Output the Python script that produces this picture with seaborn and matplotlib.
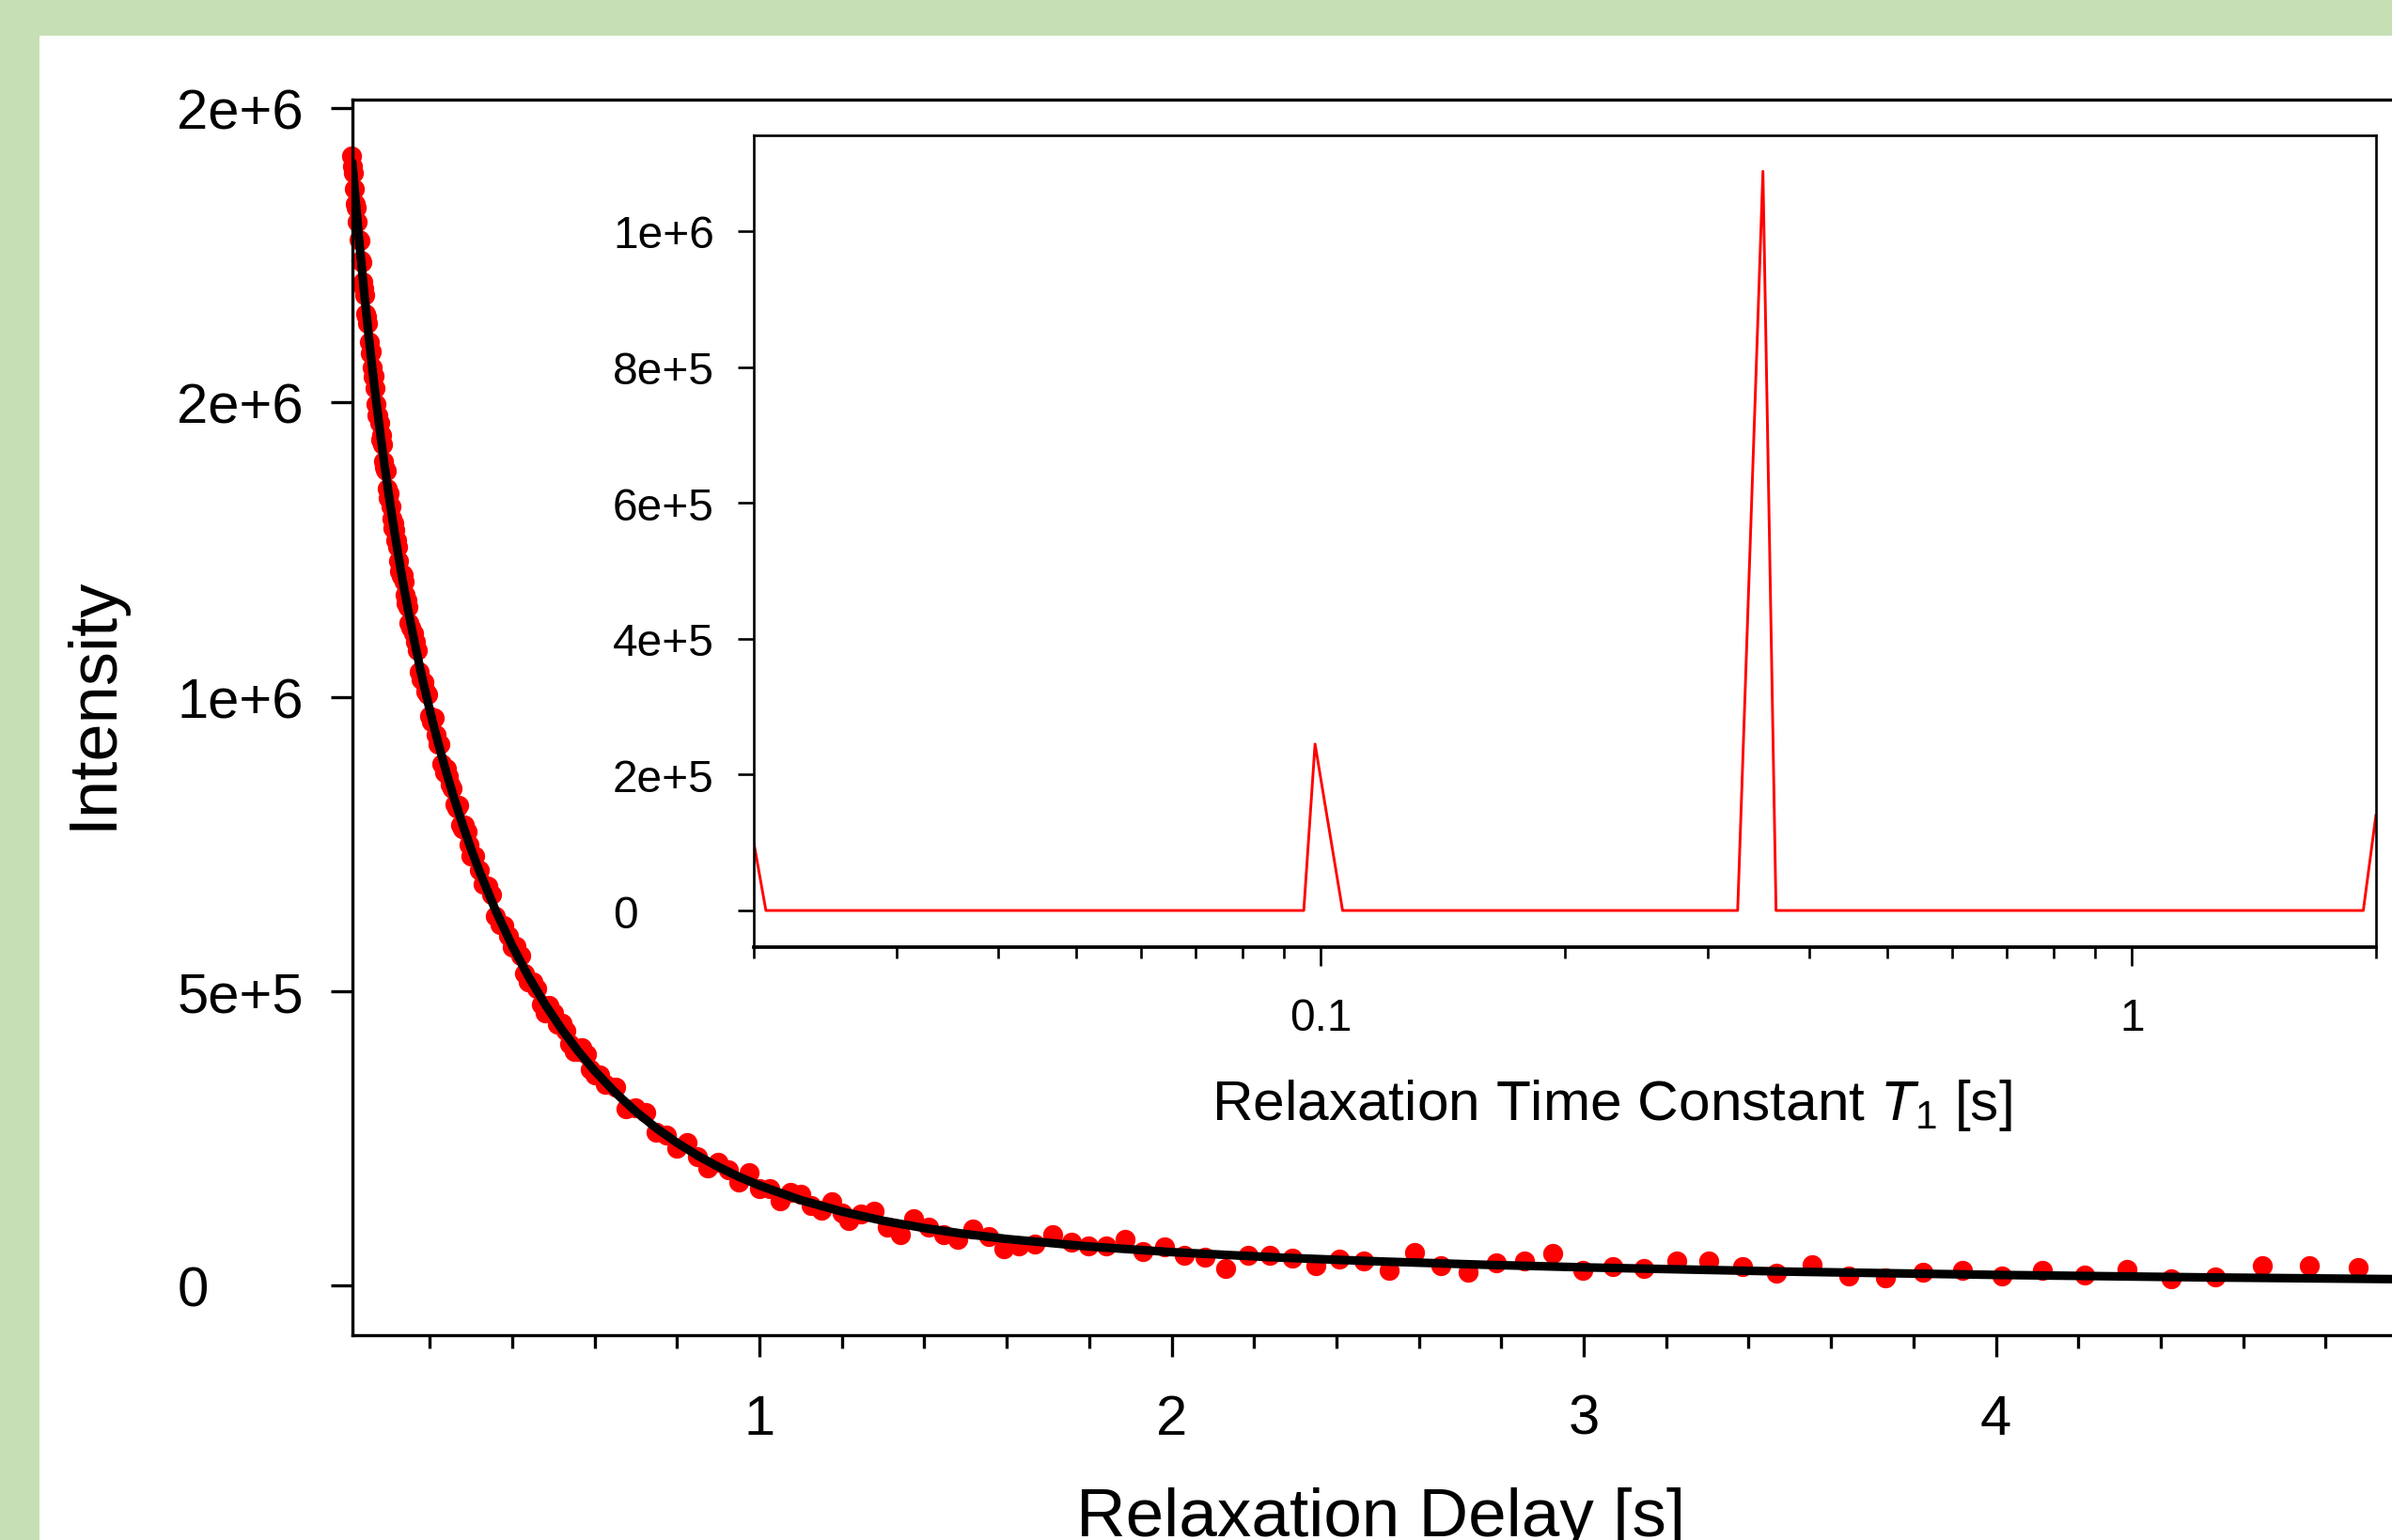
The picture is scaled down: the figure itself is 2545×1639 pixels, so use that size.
import numpy as np
import pandas as pd
import seaborn as sns
import matplotlib.pyplot as plt
from matplotlib.patches import Rectangle
from matplotlib.ticker import MultipleLocator, LogLocator, NullFormatter

# measured decay: relaxation delay [s] and intensity [x1e3]
delay = [
    0.010, 0.0125, 0.015, 0.0175, 0.020, 0.0225, 0.025, 0.0275, 0.030, 0.0325,
    0.035, 0.0375, 0.040, 0.0425, 0.045, 0.0475, 0.050,
    0.0525, 0.055, 0.0575, 0.060, 0.0625, 0.065, 0.0675, 0.070, 0.0725, 0.075,
    0.0775, 0.080, 0.0825, 0.085, 0.0875, 0.090, 0.0925, 0.095, 0.0975, 0.100,
    0.1025, 0.105, 0.1075, 0.110, 0.1125, 0.115, 0.1175, 0.120, 0.1225, 0.125,
    0.1275, 0.130, 0.1325, 0.135, 0.1375, 0.140, 0.1425, 0.145, 0.1475, 0.150, 0.155,
    0.160, 0.165, 0.170, 0.175, 0.180, 0.185, 0.190, 0.195, 0.200, 0.205,
    0.210, 0.215, 0.220, 0.225, 0.230, 0.235, 0.240, 0.245, 0.250, 0.255,
    0.260, 0.265, 0.270, 0.275, 0.280, 0.285, 0.290, 0.295, 0.300, 0.310,
    0.32, 0.33, 0.34, 0.35, 0.36, 0.37, 0.38, 0.39, 0.40, 0.41, 0.42, 0.43,
    0.44, 0.45, 0.46, 0.47, 0.48, 0.49, 0.50, 0.51, 0.52, 0.53, 0.54, 0.55,
    0.56, 0.57, 0.58, 0.59, 0.60, 0.6125,
    0.625, 0.650, 0.675, 0.700, 0.725, 0.750, 0.775, 0.800, 0.825, 0.850,
    0.875, 0.900, 0.925, 0.950, 0.975, 1.000, 1.025, 1.050, 1.075, 1.100,
    1.125, 1.150, 1.175, 1.200,
    1.216, 1.246, 1.279, 1.311, 1.341, 1.374, 1.410, 1.446, 1.482, 1.517,
    1.556, 1.592, 1.630, 1.669, 1.711, 1.756, 1.798, 1.842, 1.887, 1.931,
    1.982, 2.030, 2.080, 2.131, 2.185, 2.238, 2.293, 2.349, 2.408, 2.466,
    2.528, 2.590, 2.653, 2.719, 2.787, 2.856, 2.925, 2.997, 3.071, 3.147,
    3.225, 3.304, 3.386, 3.468, 3.554, 3.642, 3.732, 3.823, 3.919, 4.015,
    4.113, 4.216, 4.319, 4.426, 4.533, 4.646, 4.761, 4.880,
]
intensity_k = [
    1918, 1901, 1890, 1862, 1838, 1831, 1807, 1776, 1775, 1742,
    1738, 1704, 1693, 1682, 1650, 1646, 1634,
    1603, 1584, 1587, 1560, 1544, 1545, 1524, 1497, 1478, 1478,
    1465, 1436, 1444, 1429, 1400, 1391, 1385, 1384, 1353, 1338,
    1346, 1324, 1302, 1287, 1295, 1284, 1265, 1265, 1254, 1230,
    1213, 1205, 1208, 1207, 1196, 1174, 1159, 1164, 1153, 1126, 1117,
    1107, 1093, 1079, 1043, 1030, 1025, 1009, 1004, 968, 957,
    964, 935, 919, 919, 886, 872, 878, 865, 851, 845,
    818, 811, 815, 782, 776, 782, 771, 749, 729, 729,
    706, 682, 678, 664, 627, 613, 611, 594, 574, 576, 561, 530,
    515, 516, 504, 477, 463, 476, 463, 444, 445, 432, 410, 397,
    397, 404, 393, 367, 357, 358,
    342, 337, 300, 301, 294, 260, 256, 233, 242, 218,
    199, 209, 197, 175, 191, 164, 164, 144, 158, 155,
    135, 127, 142, 123,
    110.1, 120.8, 126.1, 99.5, 86.2, 112.8, 99.5, 86.2, 78.2, 95.3,
    83.5, 62.3, 67.5, 70.2, 86.2, 73.9, 67.5, 67.5, 78.2, 57.0,
    65.0, 50.6, 47.4, 28.7, 51.6, 51.6, 46.3, 33.0, 44.7, 41.0,
    25.0, 55.4, 33.0, 22.3, 38.3, 41.0, 54.3, 25.0, 31.9, 29.3,
    42.0, 41.0, 31.9, 20.8, 35.6, 15.4, 12.8, 22.3, 26.0, 15.4,
    25.0, 18.0, 26.6, 11.7, 14.4, 33.0, 33.0, 30.3,
]

# fitted curve [x1e3]
fit_delay = [
    0.0125, 0.02, 0.03, 0.04, 0.05, 0.06, 0.07, 0.08, 0.09, 0.10, 0.11, 0.12,
    0.13, 0.14, 0.15, 0.16, 0.18, 0.20, 0.22, 0.24, 0.26, 0.28, 0.30, 0.32,
    0.36, 0.40, 0.44, 0.48, 0.52, 0.56, 0.60, 0.65, 0.70, 0.75, 0.80, 0.85,
    0.90, 0.95, 1.00, 1.10, 1.20, 1.30, 1.40, 1.50, 1.60, 1.80, 2.00, 2.25,
    2.50, 2.75, 3.00, 3.50, 4.00, 4.50, 5.00, 5.20,
]
fit_k = [
    1907.2, 1844.5, 1766.1, 1693.3, 1625.5, 1562.1, 1502.8, 1447.3, 1395.1,
    1346.0, 1299.8, 1256.1, 1214.8, 1175.6, 1138.4, 1103.1, 1037.3, 977.4,
    922.6, 872.1, 825.5, 782.2, 742.0, 704.5, 636.7, 577.0, 524.2, 477.2,
    435.4, 398.0, 364.6, 327.6, 295.3, 267.0, 242.3, 220.5, 201.4, 184.5,
    169.7, 144.9, 125.4, 109.8, 97.3, 87.2, 78.8, 66.0, 56.5, 47.6, 40.8,
    35.2, 30.6, 23.3, 17.8, 13.6, 10.4, 9.4,
]

# T1 distribution (vertices of the inset trace)
t1 = [0.0200, 0.0207, 0.0953, 0.0984, 0.1064, 0.3266, 0.3509, 0.3642, 1.929, 2.0]
amplitude = [1.0e5, 0, 0, 2.45e5, 0, 0, 1.088e6, 0, 0, 1.41e5]

decay = pd.DataFrame({"delay": delay, "intensity": np.array(intensity_k) * 1e3})
fit = pd.DataFrame({"delay": fit_delay, "intensity": np.array(fit_k) * 1e3})
dist = pd.DataFrame({"t1": t1, "amp": amplitude})

sns.set_style("ticks", {"axes.edgecolor": "black", "xtick.color": "black",
                        "ytick.color": "black", "text.color": "black",
                        "axes.labelcolor": "black"})
plt.rcParams["font.family"] = ["Liberation Sans", "DejaVu Sans"]
plt.rcParams["mathtext.fontset"] = "custom"
plt.rcParams["mathtext.rm"] = "Liberation Sans"
plt.rcParams["mathtext.it"] = "Liberation Sans:italic"

W, H = 2545, 1640
fig = plt.figure(figsize=(W / 100, H / 100), dpi=100)
fig.patch.set_facecolor("#C6E0B4")
fig.add_artist(Rectangle((42 / W, 0), 1, 1 - 39 / H, transform=fig.transFigure,
                         facecolor="white", edgecolor="none", zorder=-10))

# main decay plot
ax = fig.add_axes([375 / W, 1 - 1422 / H, (2562 - 375) / W, (1422 - 107) / H])
ax.set_facecolor("white")
sns.scatterplot(data=decay, x="delay", y="intensity", ax=ax, color="#FF0000",
                s=235, linewidth=0, zorder=2, clip_on=False)
sns.lineplot(data=fit, x="delay", y="intensity", ax=ax, color="black",
             linewidth=6.6, zorder=3, estimator=None, sort=False)
ax.set_xlim(0.0125, 5.0)
ax.set_ylim(-84.6e3, 2014.4e3)
ax.set_xticks([1, 2, 3, 4], labels=["1", "2", "3", "4"])
ax.xaxis.set_minor_locator(MultipleLocator(0.2))
ax.set_yticks([0, 5e5, 1e6, 1.5e6, 2e6], labels=["0", "5e+5", "1e+6", "2e+6", "2e+6"])
for side in ["left", "bottom", "top"]:
    ax.spines[side].set_linewidth(2.4)
ax.spines["right"].set_visible(False)
ax.tick_params(which="both", direction="out", width=2.4, top=False, right=False)
ax.tick_params(axis="both", which="major", length=16.5, labelsize=43)
ax.tick_params(axis="x", which="minor", length=10)
ax.tick_params(axis="x", which="major", pad=28)
ax.tick_params(axis="y", which="major", pad=118)
for lab in ax.get_yticklabels():
    lab.set_horizontalalignment("left")
ax.set_xlabel("Relaxation Delay [s]", fontsize=52.5)
ax.set_ylabel("Intensity", fontsize=52)
ax.xaxis.set_label_coords(0.5002, -0.1224)
ax.yaxis.set_label_coords(-0.1107, 0.5122)

# inset: T1 distribution
ins = fig.add_axes([802 / W, 1 - 1009 / H, (2528 - 802) / W, (1009 - 145) / H])
ins.set_facecolor("white")
sns.lineplot(data=dist, x="t1", y="amp", ax=ins, color="#FF0000",
             linewidth=2.1, estimator=None, sort=False)
ins.set_xscale("log")
ins.set_xlim(0.02, 2.0)
ins.set_ylim(-53.9e3, 1.141e6)
ins.set_xticks([0.1, 1], labels=["0.1", "1"])
ins.xaxis.set_minor_locator(LogLocator(base=10, subs=np.arange(2, 10)))
ins.xaxis.set_minor_formatter(NullFormatter())
ins.set_yticks([0, 2e5, 4e5, 6e5, 8e5, 1e6],
               labels=["0", "2e+5", "4e+5", "6e+5", "8e+5", "1e+6"])
for side in ["left", "right", "top"]:
    ins.spines[side].set_linewidth(1.9)
ins.spines["bottom"].set_linewidth(2.7)
ins.tick_params(which="both", direction="out", width=1.9, top=False, right=False,
                labelsize=34.5)
ins.tick_params(axis="x", which="major", length=14.4, pad=24)
ins.tick_params(axis="x", which="minor", length=8.6)
ins.tick_params(axis="y", which="major", length=12.2, pad=95.8)
for lab in ins.get_yticklabels():
    lab.set_horizontalalignment("left")
ins.set_xlabel("Relaxation Time Constant $T_1$ [s]", fontsize=43.5)
ins.set_ylabel("")
ins.xaxis.set_label_coords(0.529, -0.1597)

fig.savefig("out.png", dpi=100, facecolor=fig.get_facecolor())
